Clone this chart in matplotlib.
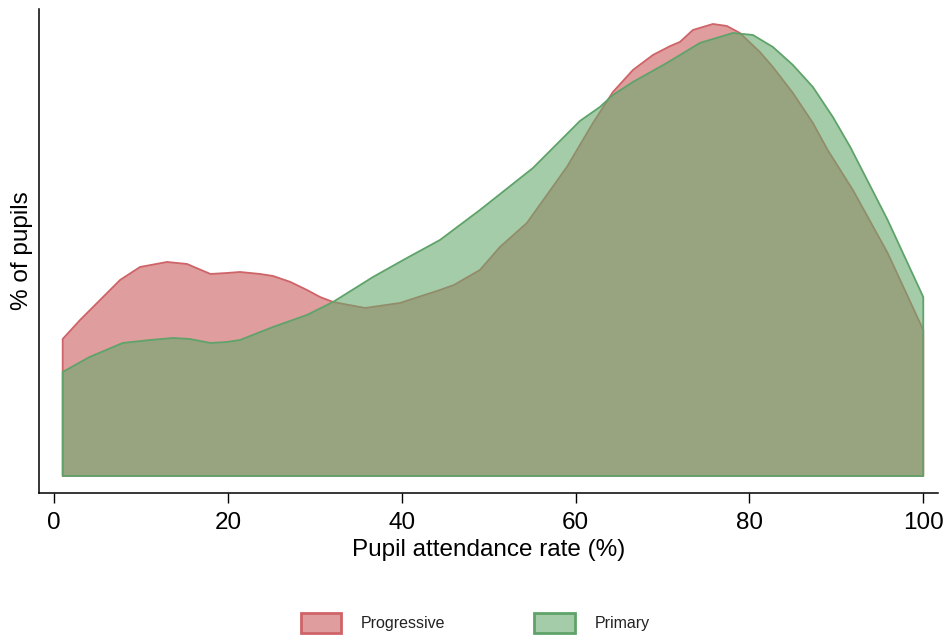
import matplotlib
matplotlib.use("Agg")
import matplotlib.pyplot as plt
from matplotlib.patches import Patch

plt.rcParams['font.family'] = ['Liberation Sans', 'DejaVu Sans']

# kernel density of attendance
prog_x = [1, 3, 5.3, 7.6, 9.9, 13, 15.3, 18, 19.9, 21.4, 23.7, 25.2, 27.2, 29.1, 30.6,
          32.1, 35.8, 39.8, 44.4, 46, 49, 51.3, 54.4, 59, 62, 64.3, 66.6, 68.9, 70.9,
          72, 73.5, 75.8, 77.4, 78.9, 81.2, 82.7, 85, 87.3, 89, 91.9, 95.9, 100]
prog_y = [0.0137, 0.0156, 0.0176, 0.0196, 0.0209, 0.0214, 0.0212, 0.0202, 0.0203, 0.0204,
          0.0202, 0.0200, 0.0194, 0.0186, 0.0179, 0.0174, 0.0168, 0.0173, 0.0186, 0.0191,
          0.0206, 0.0229, 0.0253, 0.0309, 0.0353, 0.0384, 0.0406, 0.0421, 0.0430, 0.0434,
          0.0446, 0.0452, 0.0450, 0.0443, 0.0424, 0.0409, 0.0383, 0.0353, 0.0326, 0.0286,
          0.0223, 0.0146]

prim_x = [1, 4.1, 7.9, 11.1, 13.7, 15.6, 18, 19.9, 21.4, 25.2, 29.1, 32.1, 36.7, 40.6,
          44.4, 49, 55.1, 60.5, 62.8, 64.3, 66.6, 70.5, 74.3, 78.1, 80.4, 82.7, 85, 87.3,
          89.6, 91.6, 95.9, 100]
prim_y = [0.0104, 0.0119, 0.0133, 0.0136, 0.0138, 0.0137, 0.0133, 0.0134, 0.0136, 0.0149,
          0.0161, 0.0174, 0.0199, 0.0218, 0.0236, 0.0266, 0.0308, 0.0355, 0.0369, 0.0381,
          0.0394, 0.0413, 0.0433, 0.0443, 0.0441, 0.0429, 0.0411, 0.0389, 0.0359, 0.0329,
          0.0256, 0.0179]

labels = ["Progressive", "Primary"]
fills = [(203/255, 92/255, 92/255, 0.6), (105/255, 170/255, 110/255, 0.6)]
edges = ['#cf6468', '#5fa36a']

fig = plt.figure(figsize=(9.48, 6.37), dpi=100)
ax = fig.add_axes([0.0411, 0.2261, 0.9484, 0.7598])

for xs, ys, fc, ec in [(prog_x, prog_y, fills[0], edges[0]),
                       (prim_x, prim_y, fills[1], edges[1])]:
    px = [xs[0]] + xs + [xs[-1]]
    py = [0] + ys + [0]
    ax.fill(px, py, facecolor=fc, edgecolor=ec, linewidth=1.3, joinstyle='round')

ax.set_xlim(-1.73, 101.7)
ax.set_ylim(-0.0017, 0.0467)
ax.set_xticks([0, 20, 40, 60, 80, 100])
ax.set_yticks([])
ax.tick_params(axis='x', length=7, width=1, pad=7, labelsize=17.5)
for s in ['top', 'right']:
    ax.spines[s].set_visible(False)
for s in ['left', 'bottom']:
    ax.spines[s].set_linewidth(1.1)

ax.set_xlabel("Pupil attendance rate (%)", fontsize=17.5, labelpad=3)
ax.set_ylabel("% of pupils", fontsize=17.5, labelpad=4)

handles = [Patch(facecolor=fills[i], edgecolor=edges[i], linewidth=2) for i in range(2)]
fig.legend(handles, labels, loc='center', bbox_to_anchor=(0.501, 0.022), ncol=2,
           frameon=False, fontsize=11.5, handlelength=2.55, handleheight=1.47,
           columnspacing=5.6, handletextpad=1.2, labelcolor='#222222')

fig.savefig("out.png", dpi=100)
